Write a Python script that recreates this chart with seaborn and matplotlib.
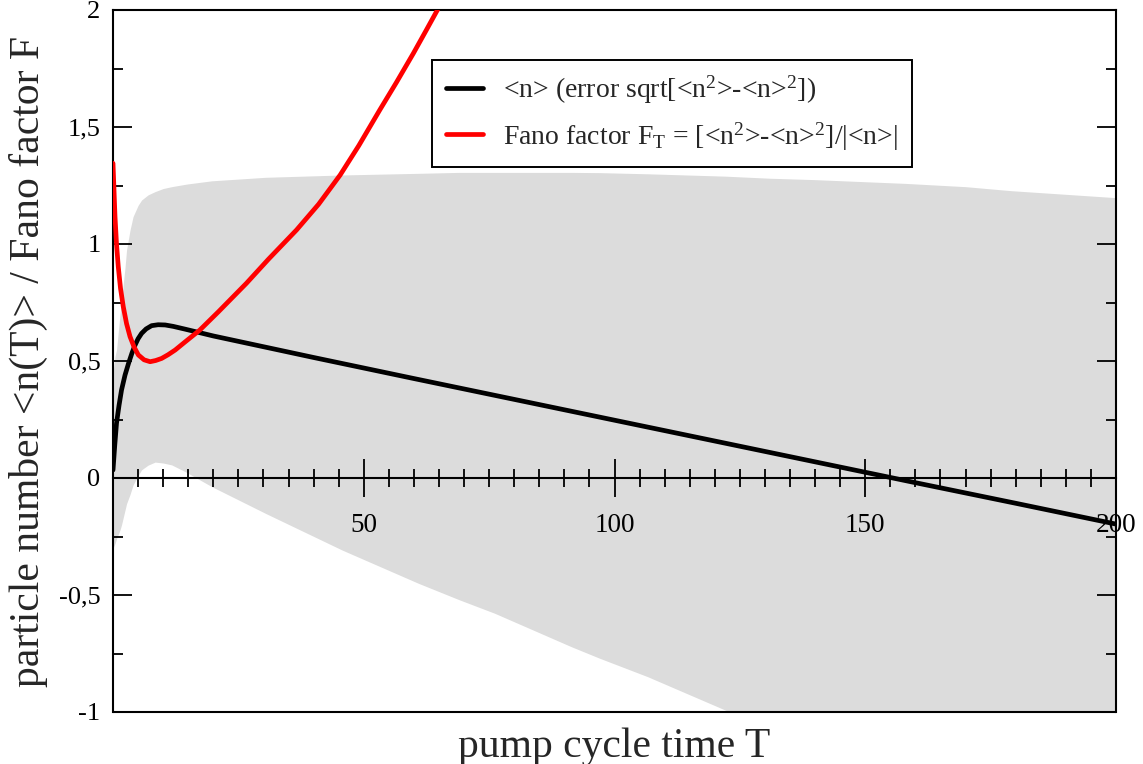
import numpy as np
import pandas as pd
import matplotlib
matplotlib.use("Agg")
import matplotlib.pyplot as plt
import seaborn as sns

# ---- data ----
t_mean = [0, 0.35, 0.7, 1.2, 1.7, 2.4, 3.1, 3.8, 4.4, 5.0, 5.7, 6.6, 7.7, 9.0, 10.4,
          12.0, 14.4, 17.3, 20, 40, 60, 80, 100, 120, 140, 160, 180, 200]
n_mean = [0.034, 0.14, 0.234, 0.31, 0.376, 0.44, 0.49, 0.535, 0.568, 0.595, 0.618, 0.637,
          0.651, 0.655, 0.654, 0.648, 0.636, 0.621, 0.607, 0.515, 0.425, 0.336, 0.247,
          0.158, 0.069, -0.020, -0.108, -0.197]

t_band = [0, 0.4, 0.7, 1.4, 1.7, 2.4, 2.7, 3.4, 4.0, 5.0, 5.7, 7.0, 8.4, 10.0, 11.7,
          14.4, 15.0, 19.7, 30.4, 45.7, 60.9, 69, 76.1, 91.4, 97, 106.6, 122, 131, 140,
          158, 170, 179, 200]
band_upper = [0.45, 0.52, 0.547, 0.70, 0.76, 0.90, 0.974, 1.06, 1.117, 1.165, 1.188,
              1.21, 1.224, 1.237, 1.245, 1.255, 1.257, 1.27, 1.285, 1.295, 1.302, 1.306,
              1.306, 1.306, 1.305, 1.30, 1.29, 1.281, 1.275, 1.259, 1.245, 1.228, 1.198]
band_lower = [-0.30, -0.28, -0.26, -0.222, -0.20, -0.137, -0.11, -0.07, -0.03, 0.01,
              0.035, 0.055, 0.068, 0.064, 0.056, 0.027, 0.02, -0.037, -0.151, -0.308,
              -0.45, -0.52, -0.578, -0.721, -0.77, -0.849, -0.991, -1.07, -1.15, -1.30,
              -1.40, -1.47, -1.60]

t_fano = [0, 0.2, 0.4, 0.7, 1.05, 1.5, 2.05, 2.7, 3.4, 4.2, 5.05, 6.2, 7.4, 8.5, 9.7,
          11.0, 12.4, 14.4, 17.3, 21.0, 26.6, 31.0, 36.6, 41.0, 45.3, 49.0, 53.2, 56.5,
          59.9, 62.5, 65.2, 68.0]
fano = [1.345, 1.23, 1.117, 1.0, 0.903, 0.81, 0.732, 0.66, 0.604, 0.56, 0.526, 0.505,
        0.497, 0.502, 0.511, 0.527, 0.547, 0.582, 0.632, 0.71, 0.832, 0.935, 1.06, 1.17,
        1.295, 1.42, 1.573, 1.69, 1.815, 1.915, 2.02, 2.13]

x_major = [50, 100, 150, 200]
x_major_labels = ["50", "100", "150", "200"]
y_major = [-1, -0.5, 0, 0.5, 1, 1.5, 2]
y_major_labels = ["-1", "-0,5", "0", "0,5", "1", "1,5", "2"]

label_mean = r"<n> (error sqrt[<n$^2$>-<n>$^2$])"
label_fano = r"Fano factor F$_\mathrm{T}$ = [<n$^2$>-<n>$^2$]/|<n>|"

# ---- styling ----
sns.set_style("white")
plt.rcParams["font.family"] = ["Liberation Serif", "DejaVu Serif"]
plt.rcParams["mathtext.fontset"] = "custom"
plt.rcParams["mathtext.rm"] = "Liberation Serif"
plt.rcParams["mathtext.it"] = "Liberation Serif"
plt.rcParams["mathtext.default"] = "regular"

W, H = 1143, 764
fig = plt.figure(figsize=(W / 100, H / 100), dpi=100)
L, R, T, B = 113, 1116, 10, 712
ax = fig.add_axes([L / W, 1 - B / H, (R - L) / W, (B - T) / H])
ax.set_axisbelow(False)

df_mean = pd.DataFrame({"T": t_mean, "n": n_mean})
df_fano = pd.DataFrame({"T": t_fano, "F": fano})

ax.fill_between(t_band, band_lower, band_upper, color="#dcdcdc", lw=0, zorder=1)
sns.lineplot(data=df_mean, x="T", y="n", ax=ax, color="black", lw=3.4,
             estimator=None, sort=False, label=label_mean, zorder=3)
sns.lineplot(data=df_fano, x="T", y="F", ax=ax, color="red", lw=3.4,
             estimator=None, sort=False, label=label_fano, zorder=4)

ax.set_xlim(0, 200)
ax.set_ylim(-1, 2)

# frame
for s in ["left", "right", "top", "bottom"]:
    ax.spines[s].set_color("black")
    ax.spines[s].set_linewidth(1.5)
ax.spines["bottom"].set_position(("data", 0))
ax.plot([0, 1], [0, 0], transform=ax.transAxes, color="black", lw=1.5,
        clip_on=False, zorder=6)

# x ticks on the zero line
ax.set_xticks(x_major)
ax.set_xticklabels(x_major_labels)
ax.set_xticks([v for v in range(5, 200, 5) if v % 50 != 0], minor=True)
ax.tick_params(axis="x", which="major", direction="inout", length=28, width=1.3,
               labelsize=19.5, pad=11, bottom=True, top=False, colors="black")
ax.tick_params(axis="x", which="minor", direction="inout", length=13, width=1.3,
               bottom=True, top=False, colors="black")

# y ticks
ax.set_yticks(y_major)
ax.set_yticklabels(y_major_labels)
ax.set_yticks(np.arange(-0.75, 2.0, 0.5), minor=True)
ax.tick_params(axis="y", which="major", direction="in", length=14, width=1.3,
               labelsize=19, pad=9, left=True, right=True, colors="black")
ax.tick_params(axis="y", which="minor", direction="in", length=7, width=1.3,
               left=True, right=True, colors="black")

ax.set_xlabel("pump cycle time T", fontsize=30, labelpad=0)
ax.set_ylabel("particle number <n(T)> / Fano factor F", fontsize=30, labelpad=8)
ax.xaxis.set_label_coords(0.5, -0.022)

leg = ax.legend(loc="upper left", bbox_to_anchor=(0.318, 0.929), borderaxespad=0,
                fontsize=20, frameon=True, fancybox=False, framealpha=1,
                edgecolor="black", handlelength=1.35, handletextpad=0.7,
                labelspacing=0.5, borderpad=0.5)
leg.get_frame().set_linewidth(1.4)
leg.set_zorder(10)

fig.savefig("out.png", dpi=100)
